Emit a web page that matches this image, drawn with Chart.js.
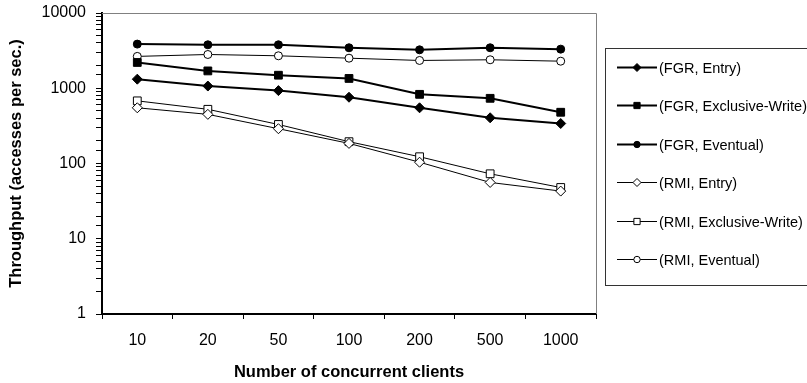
<!DOCTYPE html>
<html>
<head>
<meta charset="utf-8">
<script src="https://cdn.jsdelivr.net/npm/chart.js@4/dist/chart.umd.min.js"></script>
<style>
  html, body { margin: 0; padding: 0; background: #fff; }
  canvas { display: block; }
</style>
</head>
<body>
<canvas id="chart" width="807" height="383"></canvas>
<script>
// data (log scale, approximate)
const categories = ["10", "20", "50", "100", "200", "500", "1000"];
const seriesLabels = ["(FGR, Entry)", "(FGR, Exclusive-Write)", "(FGR, Eventual)",
                      "(RMI, Entry)", "(RMI, Exclusive-Write)", "(RMI, Eventual)"];
const fgrEntry     = [1320, 1070, 930, 760, 550, 405, 340];
const fgrExclusive = [2200, 1700, 1490, 1350, 830, 735, 480];
const fgrEventual  = [3860, 3780, 3780, 3450, 3240, 3450, 3310];
const rmiEntry     = [550, 450, 290, 185, 104, 56, 43];
const rmiExclusive = [680, 525, 330, 195, 123, 73, 48];
const rmiEventual  = [2650, 2810, 2700, 2510, 2340, 2390, 2290];
const yMin = 1, yMax = 10000;

const FONT = "'Liberation Sans', Arial, sans-serif";

// --- line styles: FGR thick + filled, RMI thin + hollow
function series(label, data, style, filled, radius) {
  return {
    label: label,
    data: data,
    borderColor: "#000",
    borderWidth: filled ? 2 : 1,
    pointStyle: style,
    pointRadius: radius,
    pointBorderWidth: 1,
    pointBorderColor: "#000",
    pointBackgroundColor: filled ? "#000" : "#fff",
    tension: 0
  };
}

const datasets = [
  series(seriesLabels[0], fgrEntry, "rectRot", true, 5),
  series(seriesLabels[1], fgrExclusive, "rect", true, 5.5),
  series(seriesLabels[2], fgrEventual, "circle", true, 4),
  series(seriesLabels[3], rmiEntry, "rectRot", false, 5),
  series(seriesLabels[4], rmiExclusive, "rect", false, 5.5),
  series(seriesLabels[5], rmiEventual, "circle", false, 4)
];

// gray frame on top/right of the plot area
const framePlugin = {
  id: "frame",
  beforeDatasetsDraw(chart) {
    const a = chart.chartArea, ctx = chart.ctx;
    ctx.save();
    ctx.strokeStyle = "#808080";
    ctx.lineWidth = 1;
    ctx.beginPath();
    ctx.moveTo(a.left, Math.round(a.top) + 0.5);
    ctx.lineTo(Math.round(a.right) + 0.5, Math.round(a.top) + 0.5);
    ctx.lineTo(Math.round(a.right) + 0.5, a.bottom);
    ctx.stroke();
    ctx.restore();
  }
};

// legend box on the right, drawn from the datasets
const legendPlugin = {
  id: "boxLegend",
  afterDraw(chart) {
    const ctx = chart.ctx;
    ctx.save();
    ctx.strokeStyle = "#333";
    ctx.lineWidth = 1;
    ctx.strokeRect(605.5, 48.5, 260, 237);
    ctx.font = "14.5px " + FONT;
    ctx.textBaseline = "middle";
    ctx.fillStyle = "#000";
    chart.data.datasets.forEach((ds, i) => {
      const y = Math.round(67 + i * 38.4) + 0.5;
      ctx.strokeStyle = "#000";
      ctx.lineWidth = ds.borderWidth;
      ctx.beginPath();
      ctx.moveTo(617, y);
      ctx.lineTo(657, y);
      ctx.stroke();
      ctx.lineWidth = 1;
      ctx.fillStyle = ds.pointBackgroundColor;
      Chart.helpers.drawPoint(ctx, {
        pointStyle: ds.pointStyle, rotation: 0,
        radius: ds.pointRadius * 0.8, borderWidth: 1
      }, 637, y);
      ctx.fillStyle = "#000";
      ctx.fillText(ds.label, 659, y + 1);
    });
    ctx.restore();
  }
};

new Chart(document.getElementById("chart"), {
  type: "line",
  data: { labels: categories, datasets: datasets },
  options: {
    responsive: false,
    animation: false,
    layout: { padding: { left: 0, top: 13, right: 211, bottom: 0 } },
    plugins: { legend: { display: false }, tooltip: { enabled: false } },
    scales: {
      x: {
        type: "category",
        offset: true,
        afterFit: s => { s.height = 69; s.paddingLeft = 0; s.paddingRight = 0; },
        grid: { offset: true, drawOnChartArea: false, drawTicks: true, tickLength: 5, color: "#000" },
        border: { color: "#000", width: 2 },
        ticks: { color: "#000", padding: 12, font: { family: FONT, size: 16 } },
        title: {
          display: true, text: "Number of concurrent clients", color: "#000",
          font: { family: FONT, size: 16.5, weight: "bold" }, padding: { top: 4, bottom: 1 }
        }
      },
      y: {
        type: "logarithmic",
        min: yMin, max: yMax,
        afterFit: s => { s.width = 102; s.paddingTop = 0; s.paddingBottom = 0; },
        grid: { drawOnChartArea: false, drawTicks: true, tickLength: 6, color: "#000" },
        border: { color: "#000", width: 2 },
        ticks: {
          color: "#000", padding: 10, autoSkip: false,
          font: { family: FONT, size: 16 },
          callback: v => Number.isInteger(Math.log10(v)) ? String(v) : ""
        },
        title: {
          display: true, text: "Throughput (accesses per sec.)", color: "#000",
          font: { family: FONT, size: 16.5, weight: "bold" }, padding: { top: 7, bottom: 4 }
        }
      }
    }
  },
  plugins: [framePlugin, legendPlugin]
});
</script>
</body>
</html>
